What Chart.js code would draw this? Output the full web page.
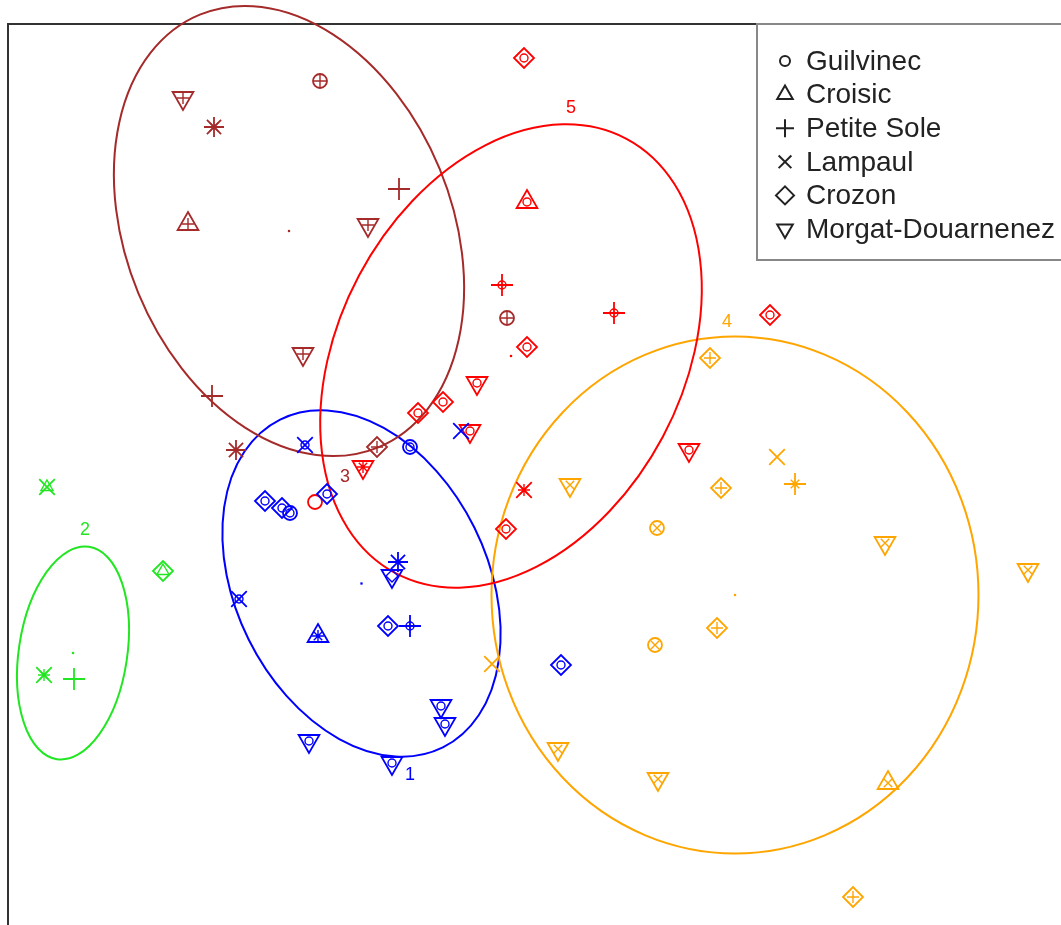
<!DOCTYPE html>
<html lang="en">
<head>
    <meta charset="UTF-8">
    <title>Clusters by site</title>
    <script src="https://cdn.jsdelivr.net/npm/chart.js"></script>
    <style>
        body { margin: 0; background: #fff; }
        #wrap { width: 1061px; height: 925px; }
    </style>
</head>
<body>
<div id="wrap"><canvas id="myChart"></canvas></div>
<script>
    // legend: one symbol per site
    const siteNames = ['Guilvinec', 'Croisic', 'Petite Sole', 'Lampaul', 'Crozon', 'Morgat-Douarnenez'];
    const siteShapes = ['o', '^', '+', 'x', 'd', 'v'];

    // clusters
    const clusterNames = ['1', '2', '3', '4', '5'];
    const clusterColors = ['#0000FF', '#22E622', '#A52A2A', '#FFA500', '#FF0000'];

    // cluster 1 (blue)
    const c1X = [-2.255, -1.205, -0.695, -2.655, -2.485, -2.405, -2.035, -1.325, -1.385, -2.915, -2.125, -1.425, -1.205, 0.305, -0.895, -0.855, -2.215, -1.385];
    const c1Y = [0.175, 0.155, 0.315, -0.385, -0.455, -0.505, -0.315, -0.995, -1.135, -1.365, -1.735, -1.635, -1.635, -2.025, -2.435, -2.615, -2.785, -3.005];
    const c1Shape = ['x', 'o', 'x', 'd', 'd', 'o', 'd', '*', 'v', 'x', '^', 'd', '+', 'd', 'v', 'v', 'v', 'v'];
    const c1Inner = ['o', 'o', null, 'o', 'o', 'o', 'o', null, 'd', 'o', '*', 'o', 'o', 'o', 'o', 'o', 'o', 'o'];

    // cluster 2 (green)
    const c2X = [-4.835, -3.675, -4.865, -4.565];
    const c2Y = [-0.245, -1.085, -2.125, -2.165];
    const c2Shape = ['x', 'd', 'x', '+'];
    const c2Inner = ['^', '^', '*', null];

    // cluster 3 (brown)
    const c3X = [-3.475, -3.165, -2.105, -1.315, -3.425, -1.625, -2.275, -3.185, -2.945, -1.535, -0.235];
    const c3Y = [3.645, 3.355, 3.815, 2.735, 2.385, 2.375, 1.085, 0.665, 0.125, 0.155, 1.445];
    const c3Shape = ['v', '*', 'o', '+', '^', 'v', 'v', '+', '*', 'd', 'o'];
    const c3Inner = ['+', 'x', '+', null, '+', '+', '+', null, null, '+', '+'];

    // cluster 4 (orange)
    const c4X = [1.795, 2.465, 2.645, 1.905, 0.395, 1.265, 3.545, 4.975, 1.865, 1.245, -0.385, 0.275, 1.275, 3.575, 3.225];
    const c4Y = [1.045, 0.055, -0.215, -0.255, -0.225, -0.655, -0.805, -1.075, -1.655, -1.825, -2.015, -2.865, -3.165, -3.205, -4.345];
    const c4Shape = ['d', 'x', '+', 'd', 'v', 'o', 'v', 'v', 'd', 'o', 'x', 'v', 'v', '^', 'd'];
    const c4Inner = ['+', null, 'x', '+', 'x', 'x', 'x', 'x', '+', 'x', null, 'x', 'x', 'x', '+'];

    // cluster 5 (red)
    const c5X = [-0.065, -0.035, -0.285, 0.835, -0.035, -0.535, -1.125, -0.875, -0.605, -1.675, -2.155, 1.585, -0.065, -0.245, 2.395];
    const c5Y = [4.045, 2.605, 1.775, 1.495, 1.155, 0.795, 0.495, 0.605, 0.315, -0.045, -0.395, 0.125, -0.275, -0.665, 1.475];
    const c5Shape = ['d', '^', '+', '+', 'd', 'v', 'd', 'd', 'v', 'v', 'o', 'v', 'x', 'd', 'd'];
    const c5Inner = ['o', 'o', 'o', 'o', 'o', 'o', 'o', 'o', 'o', '*', null, 'o', '*', 'o', 'o'];

    // cluster centres and ellipses (semi axes in plot units, angle of first axis in degrees)
    const centerX = [-1.69, -4.575, -2.415, 2.045, -0.195];
    const centerY = [-1.21, -1.905, 2.315, -1.325, 1.065];
    const ellA = [1.83, 1.074, 2.34, 2.435, 2.46];
    const ellB = [1.26, 0.542, 1.63, 2.585, 1.72];
    const ellAngle = [116.4, 81.4, 112.4, 0, 62];

    // cluster number labels
    const labelX = [-1.205, -4.455, -1.855, 1.965, 0.405];
    const labelY = [-3.125, -0.675, -0.145, 1.405, 3.545];

    const clusterX = [c1X, c2X, c3X, c4X, c5X];
    const clusterY = [c1Y, c2Y, c3Y, c4Y, c5Y];
    const clusterShape = [c1Shape, c2Shape, c3Shape, c4Shape, c5Shape];
    const clusterInner = [c1Inner, c2Inner, c3Inner, c4Inner, c5Inner];

    // shape code -> [chart.js pointStyle, rotation, radius]
    const styleOf = {
        'o': ['circle', 0, 7],
        '^': ['triangle', 0, 12],
        'v': ['triangle', 180, 12],
        '+': ['cross', 0, 11],
        'x': ['crossRot', 0, 11],
        'd': ['rectRot', 0, 10],
        '*': ['star', 0, 10]
    };
    const innerRadius = { 'o': 4, '^': 7, 'v': 7, '+': 6, 'x': 6, 'd': 6, '*': 6 };

    const frameLeft = -5.225;
    const frameTop = 4.385;

    const datasets = [];
    clusterNames.forEach((name, i) => {
        const shapes = clusterShape[i];
        datasets.push({
            label: 'Cluster ' + name,
            data: clusterX[i].map((v, k) => ({ x: v, y: clusterY[i][k] })),
            pointStyle: shapes.map(s => styleOf[s][0]),
            pointRotation: shapes.map(s => styleOf[s][1]),
            pointRadius: shapes.map(s => styleOf[s][2]),
            borderColor: clusterColors[i],
            backgroundColor: 'rgba(0,0,0,0)',
            pointBorderWidth: 1.8,
            showLine: false
        });
        const idx = clusterInner[i].map((s, k) => s ? k : -1).filter(k => k >= 0);
        datasets.push({
            label: 'Cluster ' + name + ' overlay',
            data: idx.map(k => ({ x: clusterX[i][k], y: clusterY[i][k] })),
            pointStyle: idx.map(k => styleOf[clusterInner[i][k]][0]),
            pointRotation: idx.map(k => styleOf[clusterInner[i][k]][1]),
            pointRadius: idx.map(k => innerRadius[clusterInner[i][k]]),
            borderColor: clusterColors[i],
            backgroundColor: 'rgba(0,0,0,0)',
            pointBorderWidth: 1.4,
            showLine: false
        });
    });
    datasets.push({
        label: 'centres',
        data: centerX.map((v, k) => ({ x: v, y: centerY[k] })),
        pointStyle: 'rect',
        pointRadius: 1.6,
        borderColor: clusterColors,
        backgroundColor: clusterColors,
        pointBorderWidth: 0
    });

    const ellipsePlugin = {
        id: 'ellipses',
        beforeDatasetsDraw(chart) {
            const ctx = chart.ctx;
            const xs = chart.scales.x, ys = chart.scales.y;
            ctx.save();
            // plot frame (left and top edges are the visible ones)
            const fx = xs.getPixelForValue(frameLeft), fy = ys.getPixelForValue(frameTop);
            ctx.strokeStyle = '#333';
            ctx.lineWidth = 2;
            ctx.beginPath();
            ctx.moveTo(fx, chart.height + 5);
            ctx.lineTo(fx, fy);
            ctx.lineTo(chart.width + 5, fy);
            ctx.stroke();

            clusterNames.forEach((name, i) => {
                const px = xs.getPixelForValue(centerX[i]);
                const py = ys.getPixelForValue(centerY[i]);
                const ra = Math.abs(xs.getPixelForValue(centerX[i] + ellA[i]) - px);
                const rb = Math.abs(xs.getPixelForValue(centerX[i] + ellB[i]) - px);
                ctx.beginPath();
                ctx.ellipse(px, py, ra, rb, -ellAngle[i] * Math.PI / 180, 0, 2 * Math.PI);
                ctx.strokeStyle = clusterColors[i];
                ctx.lineWidth = 2;
                ctx.stroke();

                ctx.fillStyle = clusterColors[i];
                ctx.font = '18px "Liberation Sans", Arial, sans-serif';
                ctx.textAlign = 'center';
                ctx.textBaseline = 'middle';
                ctx.fillText(name, xs.getPixelForValue(labelX[i]), ys.getPixelForValue(labelY[i]));
            });
            ctx.restore();
        },
        afterDraw(chart) {
            const ctx = chart.ctx;
            ctx.save();
            // legend box in the top right corner
            ctx.strokeStyle = '#888';
            ctx.lineWidth = 2;
            ctx.strokeRect(757, 24, 320, 236);
            siteNames.forEach((site, k) => {
                const yy = 61 + k * 33.6;
                const st = styleOf[siteShapes[k]];
                ctx.strokeStyle = '#222';
                ctx.fillStyle = 'rgba(0,0,0,0)';
                Chart.helpers.drawPoint(ctx, {
                    pointStyle: st[0],
                    rotation: st[1],
                    radius: siteShapes[k] === 'o' ? 5 : 9,
                    borderWidth: 1.5
                }, 785, yy);
                ctx.fillStyle = '#222';
                ctx.font = '28px "Liberation Sans", Arial, sans-serif';
                ctx.textAlign = 'left';
                ctx.textBaseline = 'middle';
                ctx.fillText(site, 806, yy + 1);
            });
            ctx.restore();
        }
    };

    new Chart(document.getElementById('myChart'), {
        type: 'scatter',
        data: { datasets: datasets },
        options: {
            responsive: true,
            maintainAspectRatio: false,
            animation: false,
            layout: { padding: 0, autoPadding: false },
            plugins: {
                legend: { display: false },
                tooltip: { enabled: false }
            },
            scales: {
                x: { type: 'linear', min: -5.305, max: 5.305, display: false },
                y: { type: 'linear', min: -4.625, max: 4.625, display: false }
            }
        },
        plugins: [ellipsePlugin]
    });
</script>
</body>
</html>
